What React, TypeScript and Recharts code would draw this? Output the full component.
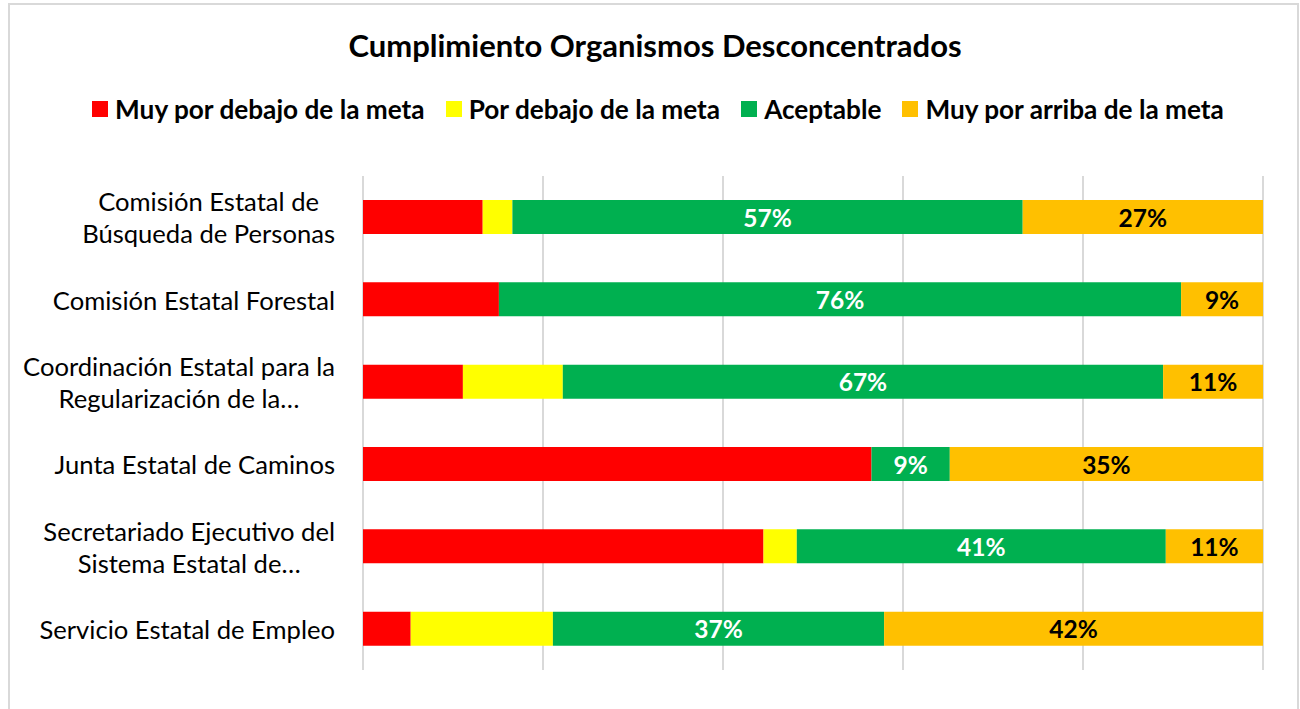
import React from 'react';
import { BarChart, Bar, XAxis, YAxis, CartesianGrid, Legend, LabelList } from 'recharts';

const FONT = 'Lato, "Noto Sans", sans-serif';

const categories = [
  'Comisión Estatal de\nBúsqueda de Personas',
  'Comisión Estatal Forestal',
  'Coordinación Estatal para la\nRegularización de la…',
  'Junta Estatal de Caminos',
  'Secretariado Ejecutivo del\nSistema Estatal de…',
  'Servicio Estatal de Empleo',
];
const muyPorDebajo = [13.3, 15.1, 11.1, 56.5, 44.5, 5.3];
const porDebajo = [3.3, 0, 11.1, 0, 3.7, 15.8];
const aceptable = [56.7, 75.8, 66.7, 8.7, 41.0, 36.8];
const muyPorArriba = [26.7, 9.1, 11.1, 34.8, 10.8, 42.1];
const xTicks = [0, 20, 40, 60, 80, 100];

const seriesNames = ['Muy por debajo de la meta', 'Por debajo de la meta', 'Aceptable', 'Muy por arriba de la meta'];
const seriesColors = ['#FF0000', '#FFFF00', '#00B050', '#FFC000'];

const data = categories.map((c, i) => ({
  name: c,
  muyPorDebajo: muyPorDebajo[i],
  porDebajo: porDebajo[i],
  aceptable: aceptable[i],
  muyPorArriba: muyPorArriba[i],
}));

let ctx: CanvasRenderingContext2D | null = null;
const measure = (t: string, font: string) => {
  if (!ctx) ctx = document.createElement('canvas').getContext('2d');
  if (!ctx) return t.length * 10;
  ctx.font = font;
  return ctx.measureText(t).width;
};

const TICK_FS = 25.6;

const YTick = (props: any) => {
  const { x, y, payload } = props;
  const lines = String(payload.value).split('\n');
  const w = Math.max(...lines.map((l) => measure(l, `${TICK_FS}px ${FONT}`)));
  const right = x - 20;
  const cx = right - w / 2;
  const lh = 32;
  const y0 = y - ((lines.length - 1) * lh) / 2;
  return (
    <g>
      {lines.map((l, i) => (
        <text key={i} x={cx} y={y0 + i * lh} textAnchor="middle" dominantBaseline="central" fontSize={TICK_FS} fontFamily={FONT} fill="#000">
          {l}
        </text>
      ))}
    </g>
  );
};

const makeLabel = (values: number[], color: string) => (props: any) => {
  const { x, y, width, height, index } = props;
  const v = values[index];
  if (!v) return null;
  return (
    <text x={x + width / 2} y={y + height / 2} textAnchor="middle" dominantBaseline="central" fontSize={24.5} fontWeight="bold" fontFamily={FONT} fill={color}>
      {`${Math.round(v)}%`}
    </text>
  );
};

const LegendContent = () => (
  <div style={{ display: 'flex', justifyContent: 'center', alignItems: 'center', fontFamily: FONT, fontWeight: 'bold', fontSize: 26.2, color: '#000' }}>
    {seriesNames.map((n, i) => (
      <div key={n} style={{ display: 'flex', alignItems: 'center', marginRight: i < seriesNames.length - 1 ? 21 : 0 }}>
        <div style={{ width: 16, height: 16, background: seriesColors[i], marginRight: 7 }} />
        <span>{n}</span>
      </div>
    ))}
  </div>
);

export default function App() {
  return (
    <div style={{ position: 'absolute', left: 0, top: 0, width: 1300, height: 709, overflow: 'hidden', background: '#fff' }}>
      <div style={{ position: 'absolute', left: 8, top: 3, width: 1291, height: 740, border: '2px solid #D9D9D9', boxSizing: 'border-box' }} />
      <div style={{ position: 'absolute', left: 0, top: 26, width: 1310, textAlign: 'center', fontFamily: FONT, fontWeight: 'bold', fontSize: 31, color: '#000' }}>
        Cumplimiento Organismos Desconcentrados
      </div>
      <div style={{ position: 'absolute', left: 0, top: 0 }}>
        <BarChart width={1300} height={709} data={data} layout="vertical" margin={{ top: 176, right: 37, bottom: 39, left: 0 }} barSize={34}>
          <CartesianGrid horizontal={false} vertical stroke="#D9D9D9" strokeWidth={2} />
          <XAxis type="number" domain={[0, 100]} ticks={xTicks} hide />
          <YAxis type="category" dataKey="name" width={363} axisLine={false} tickLine={false} tick={<YTick />} interval={0} />
          <Legend verticalAlign="middle" align="center" layout="horizontal" wrapperStyle={{ top: 93, left: 8, width: 1300 }} content={<LegendContent />} />
          <Bar dataKey="muyPorDebajo" name={seriesNames[0]} stackId="a" fill={seriesColors[0]} isAnimationActive={false} />
          <Bar dataKey="porDebajo" name={seriesNames[1]} stackId="a" fill={seriesColors[1]} isAnimationActive={false} />
          <Bar dataKey="aceptable" name={seriesNames[2]} stackId="a" fill={seriesColors[2]} isAnimationActive={false}>
            <LabelList dataKey="aceptable" content={makeLabel(aceptable, '#FFFFFF')} />
          </Bar>
          <Bar dataKey="muyPorArriba" name={seriesNames[3]} stackId="a" fill={seriesColors[3]} isAnimationActive={false}>
            <LabelList dataKey="muyPorArriba" content={makeLabel(muyPorArriba, '#000000')} />
          </Bar>
        </BarChart>
      </div>
    </div>
  );
}
